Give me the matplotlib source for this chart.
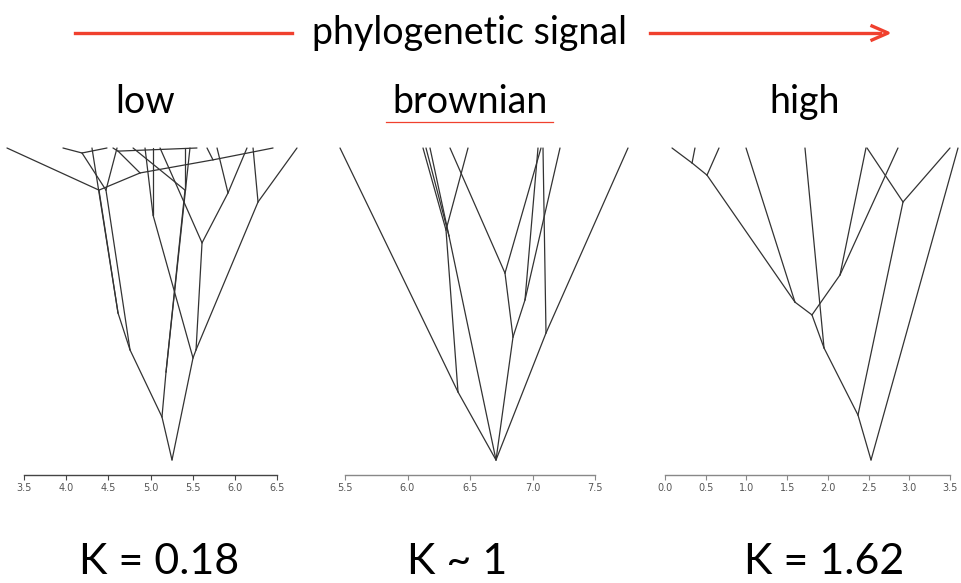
import numpy as np
import matplotlib.pyplot as plt

W, H = 961, 583

# traitgrams: trait value of each node, time from root (0) to tips (1), parent index
low_trait = [5.255, 5.136, 5.504, 4.757, 5.184, 5.030, 5.540, 5.611, 6.275, 4.615,
             4.472, 5.409, 5.468, 4.389, 4.306, 3.298, 4.876, 4.188, 4.603, 3.962,
             4.484, 4.615, 5.741, 5.670, 6.453, 4.793, 5.409, 5.030, 4.935, 5.113,
             5.919, 5.789, 6.144, 6.216, 6.737, 4.555, 5.551]
low_time = [0, 0.138, 0.327, 0.353, 0.282, 0.785, 0.353, 0.696, 0.827, 0.471,
            0.865, 0.865, 1, 0.865, 1, 1, 0.920, 0.984, 1, 1,
            1, 0.990, 0.962, 1, 1, 1, 1, 1, 1, 1,
            0.856, 1, 1, 1, 1, 1, 1]
low_parent = [-1, 0, 0, 1, 1, 2, 2, 6, 6, 3,
              3, 4, 4, 9, 9, 13, 13, 10, 10, 17,
              17, 16, 16, 22, 22, 11, 11, 5, 5, 7,
              7, 30, 30, 8, 8, 21, 21]

bm_trait = [6.708, 6.404, 5.460, 6.308, 6.124, 6.484, 6.332, 6.180, 6.148, 6.844,
            6.780, 6.340, 7.068, 6.940, 7.220, 7.044, 7.108, 7.764, 7.084]
bm_time = [0, 0.218, 1, 0.737, 1, 1, 0.718, 1, 1, 0.394,
           0.599, 1, 1, 0.513, 1, 1, 0.407, 1, 1]
bm_parent = [-1, 0, 1, 1, 3, 3, 0, 6, 6, 0, 9, 10, 10, 9, 13, 13, 0, 16, 16]

high_trait = [2.530, 2.370, 3.598, 1.953, 2.923, 2.481, 3.500, 1.805, 1.719, 1.596,
              2.149, 0.516, 0.995, 2.468, 2.861, 0.332, 0.663, 0.086, 0.368]
high_time = [0, 0.144, 1, 0.359, 0.827, 1, 1, 0.465, 1, 0.506,
             0.593, 0.913, 1, 1, 1, 0.952, 1, 1, 1]
high_parent = [-1, 0, 0, 1, 1, 4, 4, 3, 3, 7, 7, 9, 9, 10, 10, 11, 11, 15, 15]

titles = ['low', 'brownian', 'high']
k_labels = ['K = 0.18', 'K ~ 1', 'K = 1.62']
xlims = [(3.5, 6.5), (5.5, 7.5), (0.0, 3.5)]

fig = plt.figure(figsize=(W / 100, H / 100), dpi=100)


def fx(px):
    return px / W


def fy(py):
    return 1 - py / H


panels = [
    (low_trait, low_time, low_parent, 24, 277, '#444444'),
    (bm_trait, bm_time, bm_parent, 345, 595, '#888888'),
    (high_trait, high_time, high_parent, 665, 950, '#888888'),
]

for i, (tr, tm, par, x0, x1, axcol) in enumerate(panels):
    ax = fig.add_axes([fx(x0), fy(475), fx(x1) - fx(x0), (475 - 148) / H])
    for j, p in enumerate(par):
        if p < 0:
            continue
        ax.plot([tr[p], tr[j]], [tm[p], tm[j]], color='#333333', lw=0.9,
                clip_on=False, solid_capstyle='round')
    ax.set_xlim(*xlims[i])
    ax.set_ylim(-15 / 312, 1)
    ax.set_xticks(np.arange(xlims[i][0], xlims[i][1] + 0.01, 0.5))
    ax.set_xticklabels(['%.1f' % v for v in ax.get_xticks()])
    ax.tick_params(axis='x', direction='out', length=3.5, width=0.8, colors=axcol,
                   labelcolor='#555555', labelsize=7, pad=2)
    ax.set_yticks([])
    for s in ['top', 'left', 'right']:
        ax.spines[s].set_visible(False)
    ax.spines['bottom'].set_color(axcol)
    ax.spines['bottom'].set_linewidth(1.0)
    ax.patch.set_alpha(0)

# header
red = '#f0402e'
fig.text(fx(470), fy(33), 'phylogenetic signal', fontsize=27, family='Lato',
         ha='center', va='center', color='black')
fig.add_artist(plt.Line2D([fx(75), fx(292)], [fy(33), fy(33)], color=red, lw=2.4))
fig.add_artist(plt.Line2D([fx(650), fx(880)], [fy(33), fy(33)], color=red, lw=2.4))
fig.add_artist(plt.Line2D([fx(872), fx(888), fx(872)], [fy(26), fy(33), fy(40)],
                          color=red, lw=2.4))

for t, cx in zip(titles, [145, 470, 805]):
    fig.text(fx(cx), fy(102), t, fontsize=27, family='Lato', ha='center',
             va='center', color='black')
fig.add_artist(plt.Line2D([fx(386), fx(553)], [fy(122), fy(122)], color=red, lw=0.9))

for t, cx in zip(k_labels, [159, 457, 824]):
    fig.text(fx(cx), fy(562), t, fontsize=31, family='Lato', ha='center',
             va='center', color='black')

fig.savefig('out.png', dpi=100)
